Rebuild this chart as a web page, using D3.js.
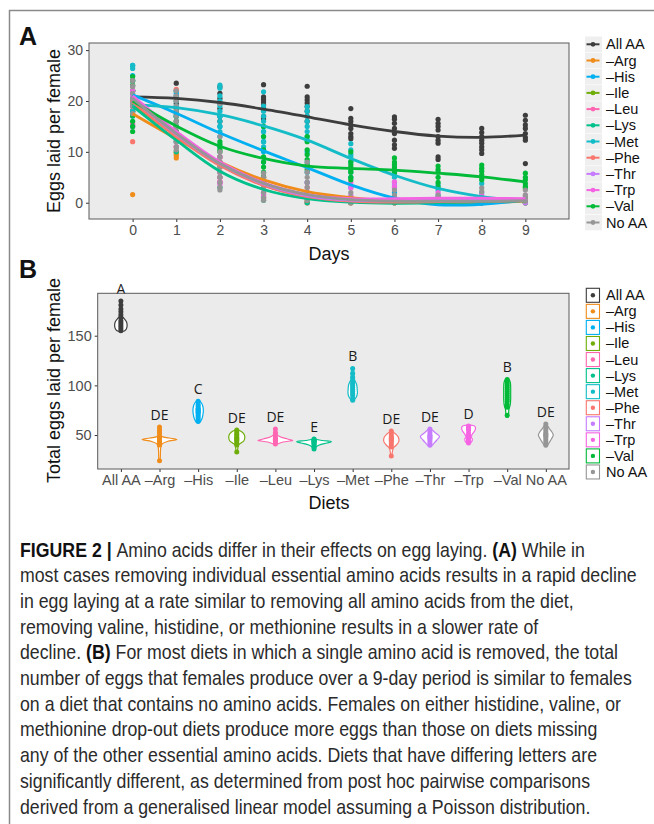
<!DOCTYPE html>
<html>
<head>
<meta charset="utf-8">
<script src="https://cdn.jsdelivr.net/npm/d3@7"></script>
<style>
  body { margin: 0; background: #fff; }
  svg { display: block; }
  text { font-family: "Liberation Sans", Arial, Helvetica, sans-serif; }
</style>
</head>
<body>
<svg id="fig" width="654" height="824"></svg>
<script>
// ---- data ----
var days = [0, 1, 2, 3, 4, 5, 6, 7, 8, 9];
var diets = ["All AA", "\u2013Arg", "\u2013His", "\u2013Ile", "\u2013Leu", "\u2013Lys",
             "\u2013Met", "\u2013Phe", "\u2013Thr", "\u2013Trp", "\u2013Val", "No AA"];
var dietColors = ["#3d3d3d", "#f08c1a", "#00b0f0", "#6fae0a", "#ff66b2", "#00c08b",
                  "#14bcc8", "#f8766d", "#c77cff", "#f564e3", "#00ba38", "#969696"];
var letters = ["A", "DE", "C", "DE", "DE", "E", "B", "DE", "DE", "D", "B", "DE"];
var yTicksA = [0, 10, 20, 30];
var yTicksB = [50, 100, 150];

// panel A: eggs per female on each day (one list per day)
var ptsAllAA = [[24, 22, 21, 20, 19, 18], [23.5, 22, 21, 20, 19.5, 18.5, 17.5],
  [22.8, 21.5, 20.5, 19.5, 18.5, 17, 16], [23.2, 20.8, 20.3, 19.8, 19.2, 18.6, 18.2, 17, 16.5],
  [22.9, 20.8, 20.2, 19.6, 18.9, 18, 17, 16], [18.5, 16.6, 16, 15.3, 14.6, 13.6, 13, 12.6],
  [16.9, 16.4, 15.6, 14.6, 13.6, 12.3, 11.4, 10.7], [16.4, 15.6, 15, 14.3, 13, 12.3, 11.7, 9, 8.5],
  [14.6, 13.8, 13, 12.3, 11.7, 11, 10.4, 9.7], [17.2, 16.2, 15.3, 14.6, 13.6, 12.8, 12.3, 7.7]];
var ptsArg = [[19, 18, 17.5, 1.6], [10, 9.7, 9.3, 8.8], [8, 6, 4], [5, 3, 1.5], [2, 1, 0],
  [1, 0], [0.5, 0], [0.5, 0], [0.5, 0], [0.5, 0]];
var ptsHis = [[27, 25, 22, 20], [21.5, 19, 17, 15], [17, 15, 13, 11], [14, 12, 10, 8], [10, 8, 6, 4],
  [5, 3, 1], [2, 1, 0], [0.5, 0], [0.5, 0], [0.5, 0]];
var ptsIle = [[22, 20, 18], [16, 14, 12], [9, 7, 5], [5, 3, 1], [2, 1, 0],
  [0.5, 0], [0.5, 0], [0.5, 0], [0.5, 0], [0.5, 0]];
var ptsLeu = [[23, 21, 15.5], [15, 13, 11], [8, 6, 4], [4, 2, 1], [3, 1, 0],
  [1, 0], [1, 0], [1, 0], [1, 0], [1, 0]];
var ptsLys = [[22, 20, 17], [14, 12, 10], [8, 5, 3], [3, 1.5, 0.5], [1, 0],
  [0.5, 0], [0], [0], [0], [0.5, 0]];
var ptsMet = [[27, 26.4, 24, 22, 20, 18], [22, 21, 20, 19, 17], [23.1, 22.5, 21, 20, 19, 18, 17, 16, 15, 14],
  [21.8, 19, 18, 17, 16, 15, 14, 13, 12, 11, 10.4], [18.9, 18, 17, 16, 15, 14, 13, 12.3],
  [11.6, 10.4, 9.5, 9, 8, 6], [6, 5, 4, 3], [3.5, 2.5, 1.5, 1], [3.8, 2, 1, 0.5], [1, 0.5, 0]];
var ptsPhe = [[22, 20, 12], [22.3, 14, 11], [9, 7, 5], [4, 2], [2, 0.5],
  [0.5, 0], [0.5, 0], [0.5, 0], [0.5, 0], [0.5, 0]];
var ptsThr = [[21, 19, 14.9], [15, 12], [9, 6, 4], [4, 2, 1], [2, 1],
  [1.5, 0.5], [3.5, 1], [1, 0], [0.5], [0.5, 0]];
var ptsTrp = [[22, 19, 15.2], [16, 13, 11], [9, 5, 4.2, 3.6], [5, 3, 1.5], [4, 2, 1],
  [4, 2.9, 1.2], [4.1, 3.1, 1], [2, 1], [1.5, 0.5], [1.5, 0.5]];
var ptsVal = [[24.8, 24, 23.1, 17.2, 16, 15, 14], [18, 17, 16, 15, 14, 13], [12, 11.5, 11, 10.4, 10],
  [15, 13, 10.4, 9, 8, 7, 6, 5.1], [13, 12, 10.4, 9.5, 8.5, 7.5, 6.5], [10, 8.1, 7.5, 7, 6.5, 6, 5, 4.5],
  [8.8, 8, 7.5, 7, 6.5, 5.8], [7.2, 6.5, 6, 5, 4, 3.1], [7.4, 6.8, 6.2, 5.5, 5, 4.5], [5.8, 5, 4.5, 3.8, 3.2, 2.9]];
var ptsNoAA = [[24, 23, 22.8, 21.5, 20.5, 19.5, 18.9, 17.5],
  [22, 21, 20, 19, 18, 17, 16, 15, 14, 13, 12, 11, 10.4],
  [19.5, 13, 10, 9, 8, 7, 6, 5, 4, 3, 2.5], [5.8, 5, 4, 3, 2, 1, 0.5],
  [8, 7, 6, 5, 4, 3, 2, 1, 0.5], [2, 1, 0.5, 0], [2.5, 1.5, 1, 0.5], [1.5, 1, 0.5],
  [2.9, 2.2, 1, 0.5], [2.5, 1.5, 1, 0.3]];

// panel A: smoothed fit read at each day
var fitAllAA = [20.8, 20.5, 19.7, 18.4, 16.9, 15.3, 14.0, 13.1, 12.85, 13.3];
var fitArg   = [17.5, 12.6, 8.0, 4.5, 2.2, 1.0, 0.3, 0.0, 0.0, 0.3];
var fitHis   = [21.2, 17.6, 13.7, 10.2, 6.9, 3.5, 0.9, -0.4, -0.3, 0.5];
var fitIle   = [19.5, 13.2, 7.5, 3.5, 1.2, 0.3, 0.2, 0.2, 0.3, 0.4];
var fitLeu   = [20.3, 13.4, 7.6, 3.6, 1.3, 0.4, 0.2, 0.3, 0.4, 0.5];
var fitLys   = [19.0, 12.3, 6.2, 2.6, 0.8, 0.1, -0.1, 0.0, 0.2, 0.4];
var fitMet   = [19.3, 18.7, 17.3, 15.1, 12.3, 8.7, 5.4, 2.8, 1.2, 0.3];
var fitPhe   = [19.8, 13.0, 7.3, 3.4, 1.2, 0.3, 0.1, 0.2, 0.3, 0.4];
var fitThr   = [20.5, 13.5, 7.7, 3.7, 1.4, 0.5, 0.4, 0.5, 0.6, 0.6];
var fitTrp   = [21.0, 14.0, 8.0, 3.9, 1.6, 0.8, 0.8, 0.9, 0.9, 0.8];
var fitVal   = [20.0, 15.1, 11.1, 8.7, 7.2, 6.75, 6.4, 5.8, 5.1, 4.1];
var fitNoAA  = [20.5, 13.6, 7.7, 3.8, 1.6, 0.6, 0.3, 0.3, 0.3, 0.4];

// panel B: total eggs per female over 9 days
var totAllAA = [185, 181, 177, 174, 171, 168, 165, 163, 161, 159, 157, 155];
var totArg   = [58, 55, 52, 48, 47, 46, 46, 45.5, 45, 45, 44, 42, 40, 24];
var totHis   = [84, 81, 79, 77, 76, 75, 74, 73, 72, 70, 68, 66, 64];
var totIle   = [55, 53, 51, 50, 48, 47, 46, 45, 44, 42, 40, 33];
var totLeu   = [56, 52, 49, 47, 46, 46, 45, 45, 44, 43, 41];
var totLys   = [46, 45, 44, 44, 43.5, 43, 42, 41, 40, 38, 36];
var totMet   = [117, 112, 108, 104, 102, 100, 98, 96, 94, 92, 90, 87, 85];
var totPhe   = [54, 52, 50, 48, 47, 46, 45, 44, 42, 40, 38, 29];
var totThr   = [56, 54, 52, 50, 49, 48, 47, 46, 44, 42, 40];
var totTrp   = [59, 58, 57, 56, 55, 52, 50, 48, 46, 45, 43, 42];
var totVal   = [106, 104, 102, 100, 98, 96, 94, 92, 90, 88, 86, 84, 81, 78, 70];
var totNoAA  = [61, 58, 56, 54, 52, 51, 50, 49, 48, 46, 44, 42, 40];

// panel B: violin outline, [total, relative half width]
var vioAllAA = [[154, 0.05], [155, 0.22], [157, 0.32], [160.5, 0.36], [164, 0.32], [167, 0.2], [169, 0.1], [173, 0.07], [179, 0.06], [185, 0.04]];
var vioArg   = [[24, 0.04], [30, 0.05], [37, 0.07], [41, 0.15], [43.5, 0.45], [45.5, 1.0], [47, 0.55], [48.5, 0.14], [51, 0.08], [54, 0.09], [58, 0.05]];
var vioHis   = [[62, 0.05], [64, 0.15], [67, 0.23], [71, 0.28], [75, 0.3], [79, 0.27], [82, 0.2], [84, 0.1], [85, 0.03]];
var vioIle   = [[33, 0.05], [37, 0.06], [40, 0.1], [42, 0.25], [44, 0.4], [47, 0.46], [50, 0.44], [53, 0.3], [55, 0.08]];
var vioLeu   = [[41, 0.12], [43, 0.45], [44.5, 1.0], [46, 0.7], [48, 0.3], [50, 0.12], [53, 0.09], [56, 0.05]];
var vioLys   = [[36, 0.08], [38, 0.12], [40, 0.3], [42, 0.75], [43.3, 1.0], [44.5, 0.5], [45.5, 0.15], [46.5, 0.05]];
var vioMet   = [[85, 0.08], [88, 0.2], [92, 0.27], [96, 0.26], [100, 0.24], [103, 0.18], [106, 0.1], [110, 0.08], [114, 0.07], [117, 0.04]];
var vioPhe   = [[29, 0.04], [33, 0.06], [37, 0.12], [40, 0.3], [44, 0.44], [48, 0.4], [51, 0.25], [53.5, 0.05]];
var vioThr   = [[38, 0.05], [41, 0.2], [45, 0.4], [48.5, 0.55], [51, 0.4], [54, 0.2], [57, 0.03]];
var vioTrp   = [[41.5, 0.1], [44, 0.2], [46, 0.22], [48, 0.15], [51, 0.22], [54, 0.35], [57, 0.4], [59, 0.35], [60, 0.1]];
var vioVal   = [[68, 0.06], [72, 0.08], [76, 0.1], [80, 0.17], [86, 0.2], [92, 0.2], [98, 0.2], [103, 0.18], [106, 0.1], [107, 0.05]];
var vioNoAA  = [[38, 0.05], [42, 0.18], [46, 0.32], [50, 0.43], [53, 0.35], [57, 0.18], [60, 0.08], [62, 0.03]];

var captionLines = [
  [["FIGURE 2 | ", true], ["Amino acids differ in their effects on egg laying. ", false], ["(A)", true], [" While in", false]],
  [["most cases removing individual essential amino acids results in a rapid decline", false]],
  [["in egg laying at a rate similar to removing all amino acids from the diet,", false]],
  [["removing valine, histidine, or methionine results in a slower rate of", false]],
  [["decline. ", false], ["(B)", true], [" For most diets in which a single amino acid is removed, the total", false]],
  [["number of eggs that females produce over a 9-day period is similar to females", false]],
  [["on a diet that contains no amino acids. Females on either histidine, valine, or", false]],
  [["methionine drop-out diets produce more eggs than those on diets missing", false]],
  [["any of the other essential amino acids. Diets that have differing letters are", false]],
  [["significantly different, as determined from post hoc pairwise comparisons", false]],
  [["derived from a generalised linear model assuming a Poisson distribution.", false]]
];

var pointsA = [ptsAllAA, ptsArg, ptsHis, ptsIle, ptsLeu, ptsLys, ptsMet, ptsPhe, ptsThr, ptsTrp, ptsVal, ptsNoAA];
var fitsA = [fitAllAA, fitArg, fitHis, fitIle, fitLeu, fitLys, fitMet, fitPhe, fitThr, fitTrp, fitVal, fitNoAA];
var totalsB = [totAllAA, totArg, totHis, totIle, totLeu, totLys, totMet, totPhe, totThr, totTrp, totVal, totNoAA];
var violinsB = [vioAllAA, vioArg, vioHis, vioIle, vioLeu, vioLys, vioMet, vioPhe, vioThr, vioTrp, vioVal, vioNoAA];

var svg = d3.select("#fig");

// figure frame
svg.append("path")
  .attr("d", "M9.5,824 V10.5 H654")
  .attr("fill", "none").attr("stroke", "#8a8a8a").attr("stroke-width", 1.5);

function styleAxis(g, fs) {
  g.select(".domain").remove();
  g.selectAll(".tick line").attr("stroke", "#333");
  g.selectAll(".tick text").attr("fill", "#4d4d4d").style("font-size", fs + "px")
    .style("font-family", '"Liberation Sans", Arial, sans-serif');
}

// ---------- Panel A ----------
var pA = {left: 89, right: 569, top: 43, bottom: 219};
var xA = d3.scaleLinear().domain([-1, 10]).range([pA.left, pA.right]);
var yA = d3.scaleLinear().domain([-3.2, 31.4]).range([pA.bottom, pA.top]);

svg.append("rect")
  .attr("x", pA.left).attr("y", pA.top)
  .attr("width", pA.right - pA.left).attr("height", pA.bottom - pA.top)
  .attr("fill", "#ebebeb");

svg.append("g").attr("transform", "translate(0," + pA.bottom + ")")
  .call(d3.axisBottom(xA).tickValues(days).tickSize(3).tickPadding(3))
  .call(styleAxis, 14);
svg.append("g").attr("transform", "translate(" + pA.left + ",0)")
  .call(d3.axisLeft(yA).tickValues(yTicksA).tickSize(3).tickPadding(3))
  .call(styleAxis, 14);

svg.append("clipPath").attr("id", "clipA").append("rect")
  .attr("x", pA.left).attr("y", pA.top)
  .attr("width", pA.right - pA.left).attr("height", pA.bottom - pA.top);

var gA = svg.append("g").attr("clip-path", "url(#clipA)");

// points
pointsA.forEach(function(byDay, i) {
  var flat = [];
  byDay.forEach(function(vals, d) { vals.forEach(function(v) { flat.push([days[d], v]); }); });
  gA.append("g").selectAll("circle").data(flat).enter().append("circle")
    .attr("cx", d => xA(d[0])).attr("cy", d => yA(d[1]))
    .attr("r", 2.6).attr("fill", dietColors[i]);
});

// smooth lines
var lineA = d3.line().x((d, j) => xA(days[j])).y(d => yA(d)).curve(d3.curveCatmullRom.alpha(0.5));
fitsA.forEach(function(f, i) {
  gA.append("path").attr("d", lineA(f))
    .attr("fill", "none").attr("stroke", dietColors[i]).attr("stroke-width", 2.8);
});

svg.append("rect")
  .attr("x", pA.left).attr("y", pA.top)
  .attr("width", pA.right - pA.left).attr("height", pA.bottom - pA.top)
  .attr("fill", "none").attr("stroke", "#5a5a5a").attr("stroke-width", 1);

svg.append("text").attr("x", 329).attr("y", 260).attr("text-anchor", "middle")
  .style("font-size", "18px").attr("fill", "#111").text("Days");
svg.append("text").attr("transform", "translate(59.5,131) rotate(-90)").attr("text-anchor", "middle")
  .style("font-size", "18px").attr("fill", "#111").text("Eggs laid per female");
svg.append("text").attr("x", 19).attr("y", 45).style("font-size", "25px").style("font-weight", "bold")
  .attr("fill", "#111").text("A");

// legend A
var legA = svg.append("g");
diets.forEach(function(name, i) {
  var cy = 44.3 + i * 16.2;
  legA.append("rect").attr("x", 585).attr("y", cy - 7.8).attr("width", 17).attr("height", 15.6).attr("fill", "#efefef");
  legA.append("line").attr("x1", 586.5).attr("x2", 599.5).attr("y1", cy).attr("y2", cy)
    .attr("stroke", dietColors[i]).attr("stroke-width", 2);
  legA.append("circle").attr("cx", 593).attr("cy", cy).attr("r", 2.4).attr("fill", dietColors[i]);
  legA.append("text").attr("x", 606).attr("y", cy + 5).style("font-size", "14.5px").attr("fill", "#111").text(name);
});

// ---------- Panel B ----------
var pB = {left: 97.7, right: 569, top: 293.3, bottom: 469};
var xB = d3.scalePoint().domain(diets).range([pB.left, pB.right]).padding(0.6);
var yB = d3.scaleLinear().domain([15.8, 192.7]).range([pB.bottom, pB.top]);
var halfMax = xB.step() * 0.45;
var wB = d3.scaleLinear().domain([0, 1]).range([0, halfMax]);

svg.append("rect")
  .attr("x", pB.left).attr("y", pB.top)
  .attr("width", pB.right - pB.left).attr("height", pB.bottom - pB.top)
  .attr("fill", "#ebebeb");

svg.append("g").attr("transform", "translate(0," + pB.bottom + ")")
  .call(d3.axisBottom(xB).tickSize(3).tickPadding(3))
  .call(styleAxis, 14.5);
svg.append("g").attr("transform", "translate(" + pB.left + ",0)")
  .call(d3.axisLeft(yB).tickValues(yTicksB).tickSize(3).tickPadding(3))
  .call(styleAxis, 14.5);

var gB = svg.append("g");
diets.forEach(function(name, i) {
  var cx = xB(name);
  var area = d3.area()
    .y(d => yB(d[0]))
    .x0(d => cx - wB(d[1]))
    .x1(d => cx + wB(d[1]))
    .curve(d3.curveCatmullRom.alpha(0.5));
  gB.append("path").attr("d", area(violinsB[i]))
    .attr("fill", "#fff").attr("stroke", dietColors[i]).attr("stroke-width", 1.2);
  gB.append("g").selectAll("circle").data(totalsB[i]).enter().append("circle")
    .attr("cx", cx).attr("cy", d => yB(d)).attr("r", 2.5).attr("fill", dietColors[i]);
  gB.append("text").attr("x", cx).attr("y", yB(d3.max(totalsB[i])) - 7)
    .attr("text-anchor", "middle").style("font-family", '"Open Sans", sans-serif')
    .style("font-size", "14px").attr("fill", "#1a1a1a").text(letters[i]);
});

svg.append("rect")
  .attr("x", pB.left).attr("y", pB.top)
  .attr("width", pB.right - pB.left).attr("height", pB.bottom - pB.top)
  .attr("fill", "none").attr("stroke", "#5a5a5a").attr("stroke-width", 1);

svg.append("text").attr("x", 329).attr("y", 509).attr("text-anchor", "middle")
  .style("font-size", "18px").attr("fill", "#111").text("Diets");
svg.append("text").attr("transform", "translate(59.5,380.5) rotate(-90)").attr("text-anchor", "middle")
  .style("font-size", "18px").attr("fill", "#111").text("Total eggs laid per female");
svg.append("text").attr("x", 19).attr("y", 278).style("font-size", "25px").style("font-weight", "bold")
  .attr("fill", "#111").text("B");

// legend B
var legB = svg.append("g");
diets.forEach(function(name, i) {
  var y0 = 287.8 + i * 16.06;
  legB.append("rect").attr("x", 586.3).attr("y", y0 + 0.5).attr("width", 13.2).attr("height", 14)
    .attr("fill", "#fff").attr("stroke", dietColors[i]).attr("stroke-width", 1.1);
  legB.append("circle").attr("cx", 592.9).attr("cy", y0 + 7.5).attr("r", 2.2).attr("fill", dietColors[i]);
  legB.append("text").attr("x", 606).attr("y", y0 + 12.5).style("font-size", "14.5px").attr("fill", "#111").text(name);
});

// ---------- caption (condensed by a horizontal squeeze) ----------
var cap = svg.append("g").attr("fill", "#2b2b2b");
var capTexts = captionLines.map(function(segs, i) {
  var t = cap.append("text").attr("x", 0).attr("y", 0).style("font-size", "20.5px");
  segs.forEach(function(s) {
    t.append("tspan").style("font-weight", s[1] ? "bold" : "normal")
      .attr("fill", s[1] ? "#111" : null).text(s[0]);
  });
  return t;
});
var sx = 617 / capTexts[1].node().getComputedTextLength();
capTexts.forEach(function(t, i) {
  t.attr("transform", "translate(20," + (556.5 + i * 25.7) + ") scale(" + sx.toFixed(4) + ",1)");
});
</script>
</body>
</html>
